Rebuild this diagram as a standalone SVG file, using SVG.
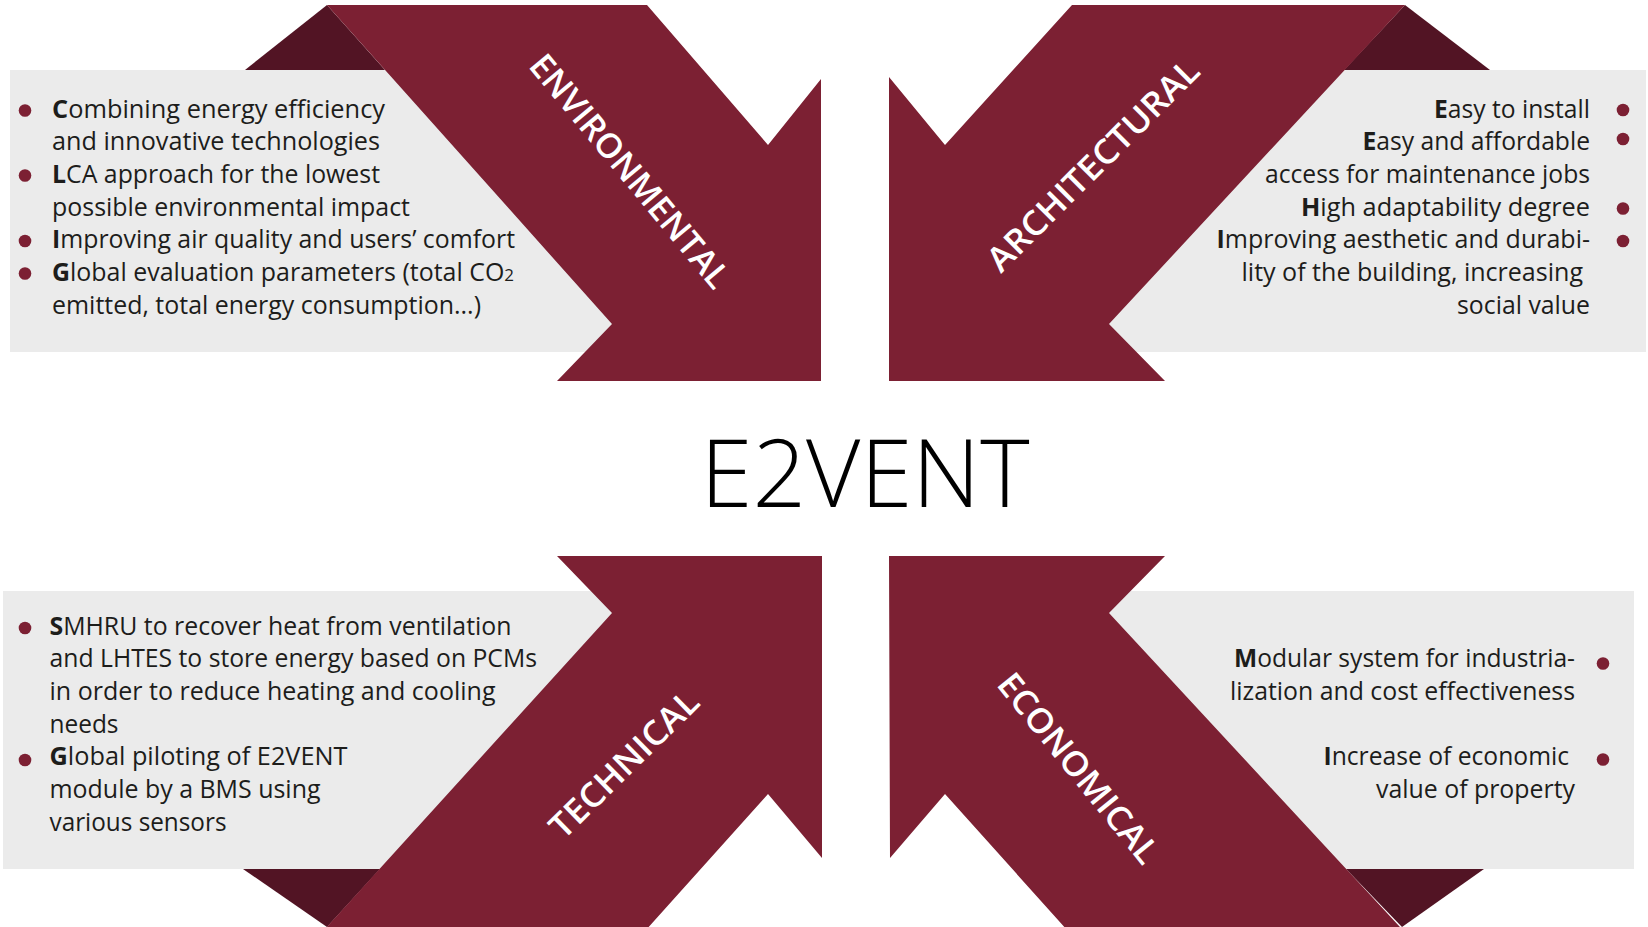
<svg xmlns="http://www.w3.org/2000/svg" width="1648" height="927" viewBox="0 0 1648 927">
<style>
.panel{fill:#EBEBEB}
.fold{fill:#521424}
.arrow{fill:#7C2033}
.dot{fill:#7C2033}
.body{font-family:"Open Sans","Liberation Sans",sans-serif;font-size:25px;fill:#1d1d1b}
.b{font-weight:700}
.lbl{font-family:"Open Sans","Liberation Sans",sans-serif;font-size:34px;font-weight:600;fill:#ffffff;text-anchor:middle}
.title{font-family:"Open Sans","Liberation Sans",sans-serif;font-weight:300;font-size:94px;fill:#000000;text-anchor:middle}
</style>
<rect width="1648" height="927" fill="#ffffff"/>
<g id="connectors"></g>

<g id="node-environmental">
<rect class="panel" x="10" y="70" width="640" height="282"/>
<polygon class="fold" points="245,70 327,5 385,70"/>
<polygon class="arrow" points="327,5 647,5 768,145 821,79 821,381 557,381 612,324"/>
<text class="lbl" transform="translate(630,171) rotate(50.3)" y="12" textLength="292" lengthAdjust="spacingAndGlyphs">ENVIRONMENTAL</text>
<circle class="dot" cx="25" cy="110.5" r="6.3"/>
<circle class="dot" cx="25" cy="175.5" r="6.3"/>
<circle class="dot" cx="25" cy="241" r="6.3"/>
<circle class="dot" cx="25" cy="273.5" r="6.3"/>
<text class="body" x="52" y="117.5" textLength="333" lengthAdjust="spacingAndGlyphs"><tspan class="b">C</tspan>ombining energy efficiency</text>
<text class="body" x="52" y="150.2" textLength="328" lengthAdjust="spacingAndGlyphs">and innovative technologies</text>
<text class="body" x="52" y="182.9" textLength="328" lengthAdjust="spacingAndGlyphs"><tspan class="b">L</tspan>CA approach for the lowest</text>
<text class="body" x="52" y="215.6" textLength="358" lengthAdjust="spacingAndGlyphs">possible environmental impact</text>
<text class="body" x="52" y="248.3" textLength="463" lengthAdjust="spacingAndGlyphs"><tspan class="b">I</tspan>mproving air quality and users’ comfort</text>
<text class="body" x="52" y="281" textLength="462" lengthAdjust="spacingAndGlyphs"><tspan class="b">G</tspan>lobal evaluation parameters (total CO<tspan font-size="17">2</tspan></text>
<text class="body" x="52" y="313.7" textLength="429" lengthAdjust="spacingAndGlyphs">emitted, total energy consumption...)</text>
</g>

<g id="node-architectural">
<rect class="panel" x="1050" y="70" width="596" height="282"/>
<polygon class="fold" points="1344,70 1405,5 1490,70"/>
<polygon class="arrow" points="1072,5 1405,5 1109,324 1165,381 889,381 889,77 945,145"/>
<text class="lbl" transform="translate(1093,165) rotate(-45)" y="12" textLength="284" lengthAdjust="spacingAndGlyphs">ARCHITECTURAL</text>
<circle class="dot" cx="1623" cy="110" r="6.3"/>
<circle class="dot" cx="1623" cy="139" r="6.3"/>
<circle class="dot" cx="1623" cy="208.5" r="6.3"/>
<circle class="dot" cx="1623" cy="241" r="6.3"/>
<text class="body" x="1434" y="117.5" textLength="156" lengthAdjust="spacingAndGlyphs"><tspan class="b">E</tspan>asy to install</text>
<text class="body" x="1362.5" y="150.2" textLength="227.5" lengthAdjust="spacingAndGlyphs"><tspan class="b">E</tspan>asy and affordable</text>
<text class="body" x="1265" y="182.9" textLength="325" lengthAdjust="spacingAndGlyphs">access for maintenance jobs</text>
<text class="body" x="1301" y="215.6" textLength="289" lengthAdjust="spacingAndGlyphs"><tspan class="b">H</tspan>igh adaptability degree</text>
<text class="body" x="1216.5" y="248.3" textLength="373.5" lengthAdjust="spacingAndGlyphs"><tspan class="b">I</tspan>mproving aesthetic and durabi-</text>
<text class="body" x="1241.5" y="281" textLength="341.5" lengthAdjust="spacingAndGlyphs">lity of the building, increasing</text>
<text class="body" x="1457" y="313.7" textLength="133" lengthAdjust="spacingAndGlyphs">social value</text>
</g>

<g id="node-e2vent">
<text class="title" x="865" y="507" textLength="329" lengthAdjust="spacingAndGlyphs">E2VENT</text>
</g>

<g id="node-technical">
<rect class="panel" x="3" y="591" width="647" height="278"/>
<polygon class="fold" points="243,869 380,869 327,927"/>
<polygon class="arrow" points="557,556 822,556 822,858 768,794 637,940 315,940 612,613"/>
<text class="lbl" transform="translate(624,764) rotate(-44.6)" y="12" textLength="194" lengthAdjust="spacingAndGlyphs">TECHNICAL</text>
<circle class="dot" cx="25" cy="628" r="6.3"/>
<circle class="dot" cx="25" cy="760" r="6.3"/>
<text class="body" x="49.5" y="634.5" textLength="462" lengthAdjust="spacingAndGlyphs"><tspan class="b">S</tspan>MHRU to recover heat from ventilation</text>
<text class="body" x="49.5" y="667.2" textLength="487.5" lengthAdjust="spacingAndGlyphs">and LHTES to store energy based on PCMs</text>
<text class="body" x="49.5" y="699.9" textLength="446" lengthAdjust="spacingAndGlyphs">in order to reduce heating and cooling</text>
<text class="body" x="49.5" y="732.6" textLength="69" lengthAdjust="spacingAndGlyphs">needs</text>
<text class="body" x="49.5" y="765.3" textLength="298" lengthAdjust="spacingAndGlyphs"><tspan class="b">G</tspan>lobal piloting of E2VENT</text>
<text class="body" x="49.5" y="798" textLength="271" lengthAdjust="spacingAndGlyphs">module by a BMS using</text>
<text class="body" x="49.5" y="830.7" textLength="177" lengthAdjust="spacingAndGlyphs">various sensors</text>
</g>

<g id="node-economical">
<rect class="panel" x="1060" y="591" width="574" height="278"/>
<polygon class="fold" points="1346,869 1484,869 1402,927"/>
<polygon class="arrow" points="889,556 1165,556 1109,613 1412,940 1076,940 945,794 890,858"/>
<text class="lbl" transform="translate(1078.5,768) rotate(51)" y="12" textLength="234" lengthAdjust="spacingAndGlyphs">ECONOMICAL</text>
<circle class="dot" cx="1603" cy="663.5" r="6.3"/>
<circle class="dot" cx="1603" cy="759.5" r="6.3"/>
<text class="body" x="1234" y="667.2" textLength="341" lengthAdjust="spacingAndGlyphs"><tspan class="b">M</tspan>odular system for industria-</text>
<text class="body" x="1230" y="699.9" textLength="345" lengthAdjust="spacingAndGlyphs">lization and cost effectiveness</text>
<text class="body" x="1323.5" y="765.3" textLength="245.5" lengthAdjust="spacingAndGlyphs"><tspan class="b">I</tspan>ncrease of economic</text>
<text class="body" x="1376" y="798" textLength="199" lengthAdjust="spacingAndGlyphs">value of property</text>
</g>
</svg>
